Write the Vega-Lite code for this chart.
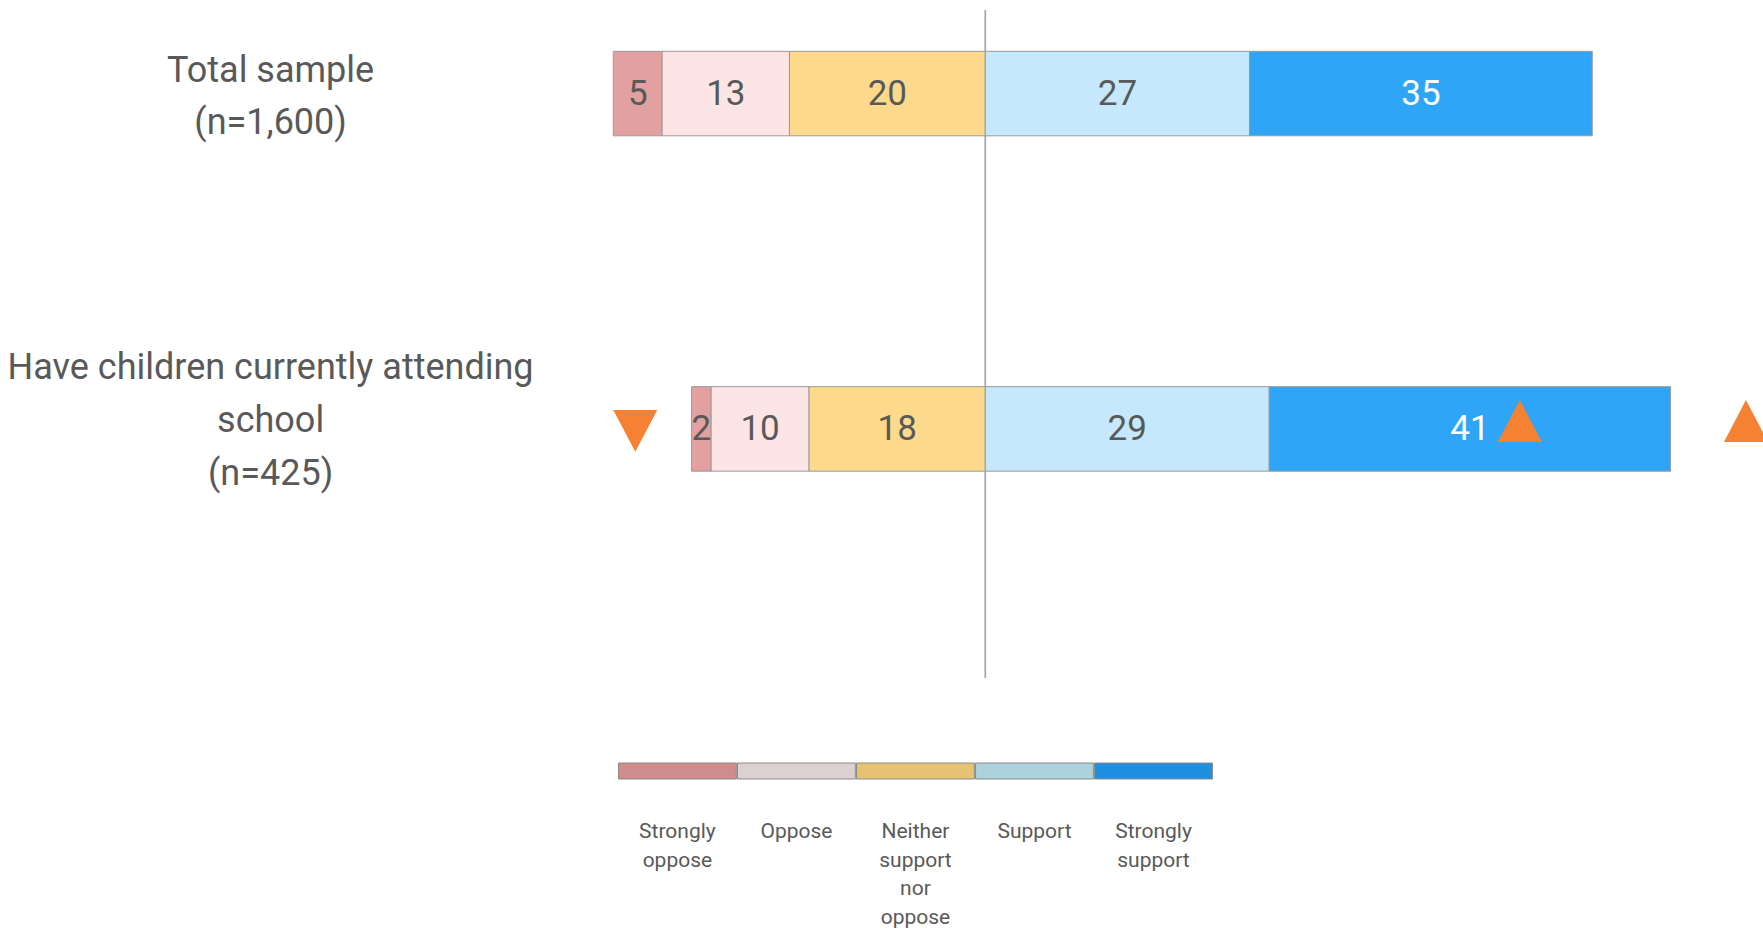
{
  "$schema": "https://vega.github.io/schema/vega-lite/v6.json",
  "background": "white",
  "padding": {"top": 9, "left": 0, "right": 0, "bottom": 0},
  "spacing": 83,
  "center": true,
  "config": {"view": {"stroke": null}, "font": "Roboto", "text": {"font": "Roboto"}},
  "resolve": {"scale": {"x": "independent", "y": "independent", "color": "independent"}},
  "datasets": {
    "responses": [
      {"group": "total", "cat": "Strongly oppose", "value": -5, "ord": 1},
      {"group": "total", "cat": "Oppose", "value": -13, "ord": 2},
      {"group": "total", "cat": "Neither support nor oppose", "value": -20, "ord": 3},
      {"group": "total", "cat": "Support", "value": 27, "ord": 4},
      {"group": "total", "cat": "Strongly support", "value": 35, "ord": 5},
      {"group": "kids", "cat": "Strongly oppose", "value": -2, "ord": 1},
      {"group": "kids", "cat": "Oppose", "value": -10, "ord": 2},
      {"group": "kids", "cat": "Neither support nor oppose", "value": -18, "ord": 3},
      {"group": "kids", "cat": "Support", "value": 29, "ord": 4},
      {"group": "kids", "cat": "Strongly support", "value": 41, "ord": 5}
    ],
    "groups": [
      {"group": "total", "label": "Total sample\n(n=1,600)", "labelPos": -73},
      {"group": "kids", "label": "Have children currently attending\nschool\n(n=425)", "labelPos": -73}
    ]
  },
  "vconcat": [
    {
      "width": 1763,
      "height": 668,
      "layer": [
        {
          "data": {"values": [{"ref": 0}]},
          "mark": {"type": "rule", "color": "#a6a6a6", "strokeWidth": 1.7},
          "encoding": {
            "x": {"field": "ref", "type": "quantitative", "scale": {"domain": [-100.64, 79.44], "nice": false, "zero": false}, "axis": null}
          }
        },
        {
          "data": {"name": "responses"},
          "transform": [
            {"calculate": "datum.value < 0 ? -datum.ord : datum.ord", "as": "stackKey"},
            {"stack": "value", "groupby": ["group"], "sort": [{"field": "stackKey", "order": "ascending"}], "as": ["x0", "x1"]}
          ],
          "mark": {"type": "bar", "stroke": "#9a9a9a", "strokeWidth": 1},
          "encoding": {
            "y": {"field": "group", "type": "nominal", "scale": {"domain": ["total", "kids"], "paddingInner": 0.748, "paddingOuter": 0.37, "align": 0.1665}, "axis": null},
            "x": {"field": "x0", "type": "quantitative", "axis": null},
            "x2": {"field": "x1"},
            "color": {
              "field": "cat", "type": "nominal", "legend": null,
              "scale": {
                "domain": ["Strongly oppose", "Oppose", "Neither support nor oppose", "Support", "Strongly support"],
                "range": ["#e3a0a0", "#fde5e6", "#fdd98b", "#c6e8fc", "#2fa5f7"]
              }
            }
          }
        },
        {
          "data": {"name": "responses"},
          "transform": [
            {"calculate": "datum.value < 0 ? -datum.ord : datum.ord", "as": "stackKey"},
            {"stack": "value", "groupby": ["group"], "sort": [{"field": "stackKey", "order": "ascending"}], "as": ["x0", "x1"]},
            {"calculate": "(datum.x0 + datum.x1) / 2", "as": "mid"},
            {"calculate": "abs(datum.value)", "as": "pct"}
          ],
          "mark": {"type": "text", "fontSize": 35, "align": "center", "baseline": "middle"},
          "encoding": {
            "y": {"field": "group", "type": "nominal", "axis": null},
            "x": {"field": "mid", "type": "quantitative", "axis": null},
            "text": {"field": "pct", "type": "quantitative"},
            "color": {"condition": {"test": "datum.cat === 'Strongly support'", "value": "#ffffff"}, "value": "#595959"}
          }
        },
        {
          "data": {"name": "groups"},
          "transform": [{"filter": "datum.group === 'total'"}],
          "mark": {"type": "text", "lineBreak": "\n", "fontSize": 36, "lineHeight": 52, "align": "center", "baseline": "middle", "dy": -23, "color": "#595959"},
          "encoding": {
            "y": {"field": "group", "type": "nominal", "axis": null},
            "x": {"field": "labelPos", "type": "quantitative", "axis": null},
            "text": {"field": "label"}
          }
        },
        {
          "data": {"name": "groups"},
          "transform": [{"filter": "datum.group === 'kids'"}],
          "mark": {"type": "text", "lineBreak": "\n", "fontSize": 36, "lineHeight": 53, "align": "center", "baseline": "middle", "dy": -61, "color": "#595959"},
          "encoding": {
            "y": {"field": "group", "type": "nominal", "axis": null},
            "x": {"field": "labelPos", "type": "quantitative", "axis": null},
            "text": {"field": "label"}
          }
        },
        {
          "data": {"values": [
            {"group": "kids", "pos": -35.75, "dir": "down"},
            {"group": "kids", "pos": 54.6, "dir": "up"},
            {"group": "kids", "pos": 77.7, "dir": "up"}
          ]},
          "mark": {"type": "point", "filled": true, "opacity": 1, "size": 1936, "color": "#f58232", "strokeWidth": 0, "clip": true},
          "encoding": {
            "y": {"field": "group", "type": "nominal", "axis": null},
            "x": {"field": "pos", "type": "quantitative", "axis": null},
            "shape": {"field": "dir", "type": "nominal", "legend": null, "scale": {"domain": ["up", "down"], "range": ["M0,-1.31L1,0.59L-1,0.59Z", "M-1,-0.86L1,-0.86L0,1.04Z"]}}
          }
        }
      ]
    },
    {
      "width": 832,
      "height": 16,
      "data": {"values": [
        {"cat": "Strongly oppose", "label": "Strongly\noppose"},
        {"cat": "Oppose", "label": "Oppose"},
        {"cat": "Neither support nor oppose", "label": "Neither\nsupport\nnor\noppose"},
        {"cat": "Support", "label": "Support"},
        {"cat": "Strongly support", "label": "Strongly\nsupport"}
      ]},
      "layer": [
        {
          "mark": {"type": "rect", "stroke": "#8a8a8a", "strokeWidth": 1},
          "encoding": {
            "x": {"field": "cat", "type": "nominal", "axis": null, "sort": null, "scale": {"domain": ["Strongly oppose", "Oppose", "Neither support nor oppose", "Support", "Strongly support"], "paddingInner": 0.01, "paddingOuter": 1, "align": 0.6426}},
            "color": {
              "field": "cat", "type": "nominal", "legend": null,
              "scale": {
                "domain": ["Strongly oppose", "Oppose", "Neither support nor oppose", "Support", "Strongly support"],
                "range": ["#cf8c8c", "#ddd0d0", "#e6c273", "#acd2dc", "#1f8fe0"]
              }
            }
          }
        },
        {
          "mark": {"type": "text", "lineBreak": "\n", "fontSize": 21, "lineHeight": 28.5, "align": "center", "baseline": "top", "dy": 50, "color": "#595959"},
          "encoding": {
            "x": {"field": "cat", "type": "nominal", "axis": null, "sort": null},
            "text": {"field": "label"}
          }
        }
      ]
    }
  ]
}
